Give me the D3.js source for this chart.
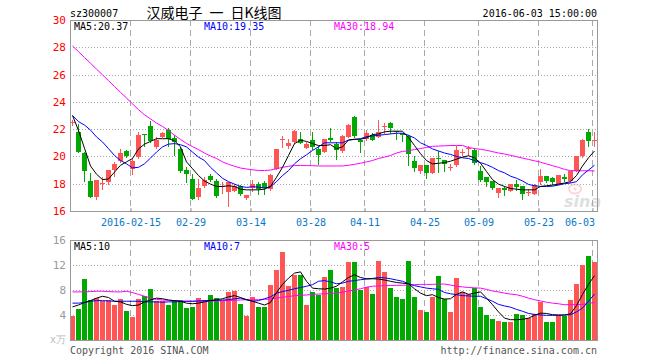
<!DOCTYPE html>
<html><head><meta charset="utf-8">
<script src="https://cdn.jsdelivr.net/npm/d3@7"></script>
<style>
html,body{margin:0;padding:0;background:#fff;}
svg{display:block;}
text{font-family:"DejaVu Sans Mono",monospace;font-size:10px;}
</style></head><body>
<svg id="c" width="660" height="360"></svg>
<script>
const dates=["2016-01-25","2016-01-26","2016-01-27","2016-01-28","2016-01-29","2016-02-01","2016-02-02","2016-02-03","2016-02-04","2016-02-05",
"2016-02-15","2016-02-16","2016-02-17","2016-02-18","2016-02-19","2016-02-22","2016-02-23","2016-02-24","2016-02-25","2016-02-26","2016-02-29",
"2016-03-01","2016-03-02","2016-03-03","2016-03-04","2016-03-07","2016-03-08","2016-03-09","2016-03-10","2016-03-11","2016-03-14","2016-03-15","2016-03-16","2016-03-17","2016-03-18","2016-03-21","2016-03-22","2016-03-23","2016-03-24","2016-03-25","2016-03-28","2016-03-29","2016-03-30","2016-03-31",
"2016-04-01","2016-04-05","2016-04-06","2016-04-07","2016-04-08","2016-04-11","2016-04-12","2016-04-13","2016-04-14","2016-04-15","2016-04-18","2016-04-19","2016-04-20","2016-04-21","2016-04-22","2016-04-25","2016-04-26","2016-04-27","2016-04-28","2016-04-29",
"2016-05-03","2016-05-04","2016-05-05","2016-05-06","2016-05-09","2016-05-10","2016-05-11","2016-05-12","2016-05-13","2016-05-16","2016-05-17","2016-05-18","2016-05-19","2016-05-20","2016-05-23","2016-05-24","2016-05-25","2016-05-26","2016-05-27","2016-05-30","2016-05-31",
"2016-06-01","2016-06-02","2016-06-03"];
const open=[22.45,21.8,20.27,18.2,17.0,18.0,18.1,19.0,19.65,20.37,19.1,19.95,21.65,22.2,20.7,21.45,21.97,21.35,20.57,18.97,18.35,17.0,17.8,18.55,18.2,17.8,17.4,17.5,17.8,16.95,17.65,18.0,18.05,17.6,19.1,21.2,20.75,21.05,21.3,20.64,21.2,20.57,20.32,21.38,20.9,20.37,21.43,22.86,21.2,21.26,21.6,21.43,22.15,22.44,21.9,21.75,21.5,19.65,18.95,19.35,18.8,19.85,19.75,19.15,19.35,20.25,20.55,20.44,18.96,18.5,18.2,17.35,17.67,17.5,17.98,17.8,17.38,17.25,18.1,18.54,18.4,17.98,18.5,18.22,18.9,20.0,21.8,21.15];
const high=[22.7,22.35,20.3,18.8,18.27,18.5,19.0,19.6,20.57,20.5,19.9,21.8,21.65,22.6,21.45,21.8,22.05,21.55,20.7,19.2,18.7,18.35,18.5,18.7,18.35,18.15,18.1,17.95,17.9,17.15,18.25,18.1,18.2,18.7,20.57,21.5,21.3,21.93,21.8,21.06,21.8,20.8,21.3,22.1,21.06,21.55,22.35,22.94,21.3,21.93,21.75,22.7,22.45,22.56,21.9,21.75,21.6,20.0,19.35,19.35,19.9,20.4,19.75,19.45,20.75,20.55,20.8,20.6,19.33,18.5,18.2,17.7,17.8,17.98,18.27,17.8,17.6,17.95,19.1,18.54,18.5,18.64,18.7,18.96,20.0,21.3,22.0,21.8];
const low=[22.3,20.3,18.2,17.0,16.9,17.6,18.0,18.6,19.6,19.95,18.7,19.9,20.8,21.05,20.65,21.45,20.8,20.07,18.85,18.1,16.85,16.85,17.75,18.2,17.05,17.3,16.4,17.45,17.15,16.9,17.5,17.28,17.28,17.55,19.05,20.7,20.6,21.0,20.95,20.64,20.57,19.46,20.3,21.1,19.78,20.32,21.4,21.43,20.3,21.2,21.2,21.4,21.7,21.75,21.3,21.15,19.4,18.95,18.75,18.4,18.8,18.85,18.9,19.0,19.3,20.1,20.1,19.46,18.2,17.85,17.6,17.0,17.15,17.45,17.55,16.9,17.2,17.25,18.0,18.1,18.0,17.98,18.2,18.15,18.9,19.95,20.8,20.8];
const close=[22.5,20.3,18.9,17.0,18.27,18.05,19.0,19.45,20.27,20.0,19.7,21.55,21.6,21.15,21.2,21.7,21.3,21.05,18.9,18.7,16.9,17.7,18.3,18.3,17.1,17.85,18.1,17.8,17.25,17.15,17.95,17.6,17.65,18.65,20.57,21.25,21.0,21.9,21.0,20.94,20.7,20.12,21.26,21.2,20.44,21.48,22.3,21.5,21.06,21.73,21.23,21.8,22.2,22.12,21.8,21.6,20.2,19.15,19.35,18.8,19.9,19.8,19.45,19.2,20.5,20.3,20.6,19.5,18.27,18.1,17.65,17.65,17.55,17.98,17.73,17.25,17.42,17.9,18.6,18.22,18.1,18.64,18.35,18.96,20.0,21.2,21.1,21.2];
const volume=[3.9,5.0,9.8,6.4,6.7,6.3,6.4,5.65,6.6,4.65,3.7,6.6,7.0,8.2,6.2,6.2,5.65,6.45,6.45,5.2,5.35,6.8,6.45,7.25,6.8,6.2,7.7,7.9,5.8,3.9,6.9,5.35,5.35,8.85,11.25,14.1,8.7,10.35,10.35,5.65,7.7,7.2,10.1,11.25,8.4,8.5,12.5,12.5,8.0,8.5,7.4,12.7,10.9,8.4,6.9,6.6,12.7,6.9,4.85,4.5,6.9,10.3,6.55,4.5,9.85,7.7,7.35,8.4,5.35,3.95,3.4,3.1,2.95,2.95,4.2,4.05,3.5,4.15,6.15,2.95,2.95,4.0,3.9,6.45,9.0,12.05,13.5,12.5];
const ma5=[23.0,21.9,20.6,19.3,18.7,18.3,18.35,18.85,19.35,19.6,19.85,20.55,20.9,21.1,21.3,21.3,21.3,21.15,20.7,19.6,19.1,18.6,18.2,17.97,17.8,17.8,17.85,17.8,17.6,17.55,17.55,17.55,17.6,17.8,18.47,19.2,20.07,20.94,21.19,21.1,20.94,20.8,20.8,20.86,20.57,20.7,21.2,21.26,21.26,21.36,21.6,21.65,21.8,21.85,21.85,21.85,21.4,20.8,20.2,19.7,19.45,19.5,19.55,19.65,19.8,19.95,20.05,19.9,19.5,18.9,18.3,17.97,17.8,17.65,17.6,17.55,17.55,17.55,17.8,17.85,17.9,17.97,18.05,18.15,18.6,19.3,19.9,20.4];
const ma10=[23.0,22.55,22.3,21.93,21.43,21.06,20.57,20.07,19.7,19.46,19.16,19.2,19.46,19.88,20.32,20.7,20.9,20.94,20.86,20.7,20.32,19.95,19.7,19.2,18.8,18.4,18.15,17.97,17.8,17.73,17.78,17.75,17.68,17.78,18.15,18.6,18.96,19.46,19.83,20.12,20.44,20.7,21.0,21.0,21.0,21.0,21.2,21.25,21.3,21.45,21.5,21.55,21.6,21.65,21.7,21.7,21.55,21.35,21.0,20.8,20.55,20.4,20.25,20.15,20.0,19.9,19.85,19.7,19.55,19.4,19.2,18.96,18.8,18.55,18.4,18.2,17.95,17.85,17.8,17.8,17.82,17.9,18.0,18.05,18.15,18.65,19.0,19.35];
const ma30=[28.1,27.68,27.25,26.83,26.4,25.98,25.55,25.13,24.7,24.28,23.85,23.43,23.05,22.75,22.45,22.2,21.9,21.55,21.25,20.95,20.72,20.5,20.25,20.03,19.85,19.6,19.42,19.28,19.15,19.08,19.02,18.97,18.97,19.0,19.1,19.2,19.28,19.33,19.33,19.33,19.32,19.3,19.3,19.3,19.3,19.3,19.35,19.42,19.5,19.6,19.7,19.85,19.95,20.07,20.25,20.37,20.42,20.5,20.58,20.66,20.74,20.76,20.78,20.8,20.8,20.8,20.65,20.58,20.52,20.45,20.35,20.25,20.18,20.08,19.98,19.88,19.78,19.68,19.58,19.45,19.32,19.2,19.05,18.96,18.95,18.95,18.95,18.94];
const vma5=[5.3,5.6,6.0,6.3,6.7,7.0,6.8,6.2,6.1,5.7,5.5,5.6,6.1,6.4,6.7,6.6,6.4,6.3,6.2,5.9,5.8,5.9,6.1,6.3,6.45,6.6,6.9,7.1,6.8,6.45,6.2,5.9,5.6,6.0,7.6,8.9,9.9,10.7,10.9,9.4,8.3,8.2,8.15,8.3,8.6,9.3,10.0,10.45,10.0,9.8,9.8,9.75,9.6,9.4,9.2,9.1,9.0,8.2,7.5,7.1,7.25,6.8,6.55,6.6,7.3,7.7,7.3,7.5,7.7,6.7,5.65,4.5,3.5,3.25,3.25,3.3,3.5,3.95,4.3,4.25,4.05,4.0,4.0,4.2,5.5,7.3,8.9,10.3];
const vma10=[5.9,5.9,6.0,6.2,6.3,6.3,6.25,6.2,6.2,6.2,6.2,6.2,6.1,6.1,6.1,6.05,6.1,6.1,6.15,6.2,6.2,6.25,6.3,6.35,6.35,6.4,6.45,6.6,6.7,6.45,6.2,6.3,6.6,6.9,7.5,7.75,7.95,8.2,8.4,8.6,8.85,9.4,9.5,9.3,9.0,9.1,9.4,9.5,9.65,9.75,9.85,10.0,9.95,9.8,9.6,9.4,9.0,8.7,8.5,8.3,8.2,8.1,7.6,7.4,7.25,7.1,7.05,7.0,7.0,6.6,6.2,5.7,5.45,5.25,4.9,4.6,4.25,4.1,4.0,3.95,3.95,3.95,4.0,4.05,4.5,5.1,6.2,7.35];
const vma30=[7.7,7.7,7.7,7.75,7.8,7.8,7.75,7.7,7.7,7.8,7.6,7.3,7.0,6.7,6.5,6.4,6.35,6.3,6.25,6.2,6.2,6.2,6.2,6.2,6.25,6.3,6.3,6.35,6.4,6.45,6.45,6.45,6.5,6.55,6.7,6.85,6.95,7.1,7.15,7.2,7.3,7.35,7.4,7.45,7.5,7.65,7.85,8.0,8.2,8.45,8.6,8.65,8.7,8.72,8.75,8.75,8.8,8.85,8.9,8.9,8.9,8.95,8.95,8.8,8.6,8.5,8.4,8.35,8.3,8.1,7.85,7.7,7.5,7.35,7.25,7.0,6.7,6.45,6.25,6.05,5.9,5.8,5.65,5.65,5.65,5.7,5.85,6.0];
const priceTicks=[16,18,20,22,24,26,28,30];
const volTicks=[4,8,12,16];
const dateTicks=["2016-02-15","2016-02-29","2016-03-14","2016-03-28","2016-04-11","2016-04-25","2016-05-09","2016-05-23","2016-06-03"];
const dateTickLabels=["2016-02-15","02-29","03-14","03-28","04-11","04-25","05-09","05-23","06-03"];
const priceLegend=["MA5:20.37","MA10:19.35","MA30:18.94"];
const volLegend=["MA5:10","MA10:7","MA30:5"];

const RED="#ff5555", GREEN="#00a800";
const svg=d3.select("#c");
const L=70,R=597,PT=20,PB=211,VT=240,VB=340;
const x=d3.scaleLinear().domain([0,dates.length]).range([L,L+6*dates.length]);
const yP=d3.scaleLinear().domain([16,30]).range([PB,PT]);
const yV=d3.scaleLinear().domain([0,16]).range([VB,VT]);
const tickIdx=dateTicks.map(d=>dates.indexOf(d));

// grid
const g=svg.append("g");
[[yP,priceTicks.filter(v=>v>16&&v<30)],[yV,volTicks.filter(v=>v<16)]].forEach(([s,ts])=>{
  g.selectAll(null).data(ts).enter().append("line")
   .attr("x1",L).attr("x2",R).attr("y1",d=>Math.round(s(d))+0.5).attr("y2",d=>Math.round(s(d))+0.5)
   .attr("stroke","#a8a8a8").attr("stroke-dasharray","1,2");
});
[[PT,PB],[VT,VB]].forEach(([t,b])=>{
  g.selectAll(null).data(tickIdx).enter().append("line")
   .attr("x1",d=>Math.round(x(d))+0.5).attr("x2",d=>Math.round(x(d))+0.5).attr("y1",t).attr("y2",b)
   .attr("stroke","#aaaaaa").attr("stroke-dasharray","6,4");
});

// watermark
const wm=svg.append("g").attr("opacity",0.4);
wm.append("ellipse").attr("cx",575).attr("cy",189).attr("rx",6).attr("ry",4.5).attr("fill","none").attr("stroke","#f4a0a0").attr("stroke-width",2);
wm.append("circle").attr("cx",575).attr("cy",189).attr("r",1.6).attr("fill","#f4a0a0");
wm.append("text").attr("x",564).attr("y",207).text("sina")
  .style("font-family","'DejaVu Sans',sans-serif").style("font-size","16px").style("font-weight","bold").style("font-style","italic").attr("fill","#b0b0b0");

// candles
const idx=d3.range(dates.length);
const col=i=>close[i]>=open[i]?RED:GREEN;
const cg=svg.append("g");
cg.selectAll(".wick").data(idx).enter().append("rect")
  .attr("x",i=>Math.round(x(i))+2).attr("width",1)
  .attr("y",i=>Math.round(yP(high[i]))).attr("height",i=>Math.max(1,Math.round(yP(low[i]))-Math.round(yP(high[i]))+1))
  .attr("fill",col);
cg.selectAll(".body").data(idx).enter().append("rect")
  .attr("x",i=>Math.round(x(i))).attr("width",5)
  .attr("y",i=>Math.round(yP(Math.max(open[i],close[i]))))
  .attr("height",i=>Math.max(1,Math.round(yP(Math.min(open[i],close[i])))-Math.round(yP(Math.max(open[i],close[i])))))
  .attr("fill",col);

// volume bars
svg.append("g").selectAll("rect").data(idx).enter().append("rect")
  .attr("x",i=>Math.round(x(i))).attr("width",5)
  .attr("y",i=>Math.round(yV(volume[i]))).attr("height",i=>VB-Math.round(yV(volume[i])))
  .attr("fill",col);

// MA lines
function maLine(arr,ys,color){
  svg.append("path").datum(arr).attr("fill","none").attr("stroke",color).attr("stroke-width",1)
    .attr("d",d3.line().x((d,i)=>x(i)+2.5).y(d=>ys(d)));
}
maLine(ma30,yP,"#ff00ff");maLine(ma10,yP,"#0000ff");maLine(ma5,yP,"#000000");
maLine(vma30,yV,"#ff00ff");maLine(vma10,yV,"#0000ff");maLine(vma5,yV,"#000000");

// frames
svg.append("rect").attr("x",L+0.5).attr("y",PT+0.5).attr("width",R-L).attr("height",PB-PT).attr("fill","none").attr("stroke","#999");
svg.append("rect").attr("x",L+0.5).attr("y",VT+0.5).attr("width",R-L).attr("height",VB-VT).attr("fill","none").attr("stroke","#999");

// axes
const ax1=svg.append("g").attr("transform",`translate(${L},0)`)
  .call(d3.axisLeft(yP).tickValues(priceTicks).tickSize(0).tickPadding(4).tickFormat(d3.format("d")));
ax1.select(".domain").remove();
ax1.selectAll("text").attr("fill","#ff0000").style("font-size","11px").style("font-family","'DejaVu Sans Mono',monospace");
const ax2=svg.append("g").attr("transform",`translate(${L},0)`)
  .call(d3.axisLeft(yV).tickValues(volTicks).tickSize(0).tickPadding(4).tickFormat(d3.format("d")));
ax2.select(".domain").remove();
ax2.selectAll("text").attr("fill","#999").style("font-size","11px").style("font-family","'DejaVu Sans Mono',monospace");
const ax3=svg.append("g").attr("transform",`translate(0.5,${PB})`)
  .call(d3.axisBottom(x).tickValues(tickIdx).tickSizeInner(-3).tickSizeOuter(0).tickPadding(8).tickFormat((d,i)=>dateTickLabels[i]));
ax3.select(".domain").remove();
ax3.selectAll("line").attr("stroke","#999");
ax3.selectAll("text").attr("fill","#0a78c8").style("font-size","10px").style("font-family","'DejaVu Sans Mono',monospace");
ax3.selectAll(".tick").filter((d,i)=>i===tickIdx.length-1).select("text").attr("text-anchor","end").attr("x",2);

// header texts
svg.append("text").attr("x",70).attr("y",17).text("sz300007").attr("fill","#000");
svg.append("text").attr("x",214).attr("y",18).attr("text-anchor","middle").text("汉威电子\u2002一\u2002日K线图")
  .style("font-family","'Noto Sans CJK SC',sans-serif").style("font-size","14px").attr("fill","#000");
svg.append("text").attr("x",597).attr("y",17).attr("text-anchor","end").text("2016-06-03 15:00:00").attr("fill","#000");
const legX=[74,204,334], legC=["#000","#0000ff","#ff00ff"];
priceLegend.forEach((t,i)=>svg.append("text").attr("x",legX[i]).attr("y",30).text(t).attr("fill",legC[i]));
volLegend.forEach((t,i)=>svg.append("text").attr("x",legX[i]).attr("y",250).text(t).attr("fill",legC[i]));
svg.append("text").attr("x",50).attr("y",343).text("x万").attr("fill","#bbb").style("font-size","10px");
svg.append("text").attr("x",70).attr("y",354).text("Copyright 2016 SINA.COM").attr("fill","#555");
svg.append("text").attr("x",597).attr("y",354).attr("text-anchor","end").text("http://finance.sina.com.cn").attr("fill","#555");
</script></body></html>
